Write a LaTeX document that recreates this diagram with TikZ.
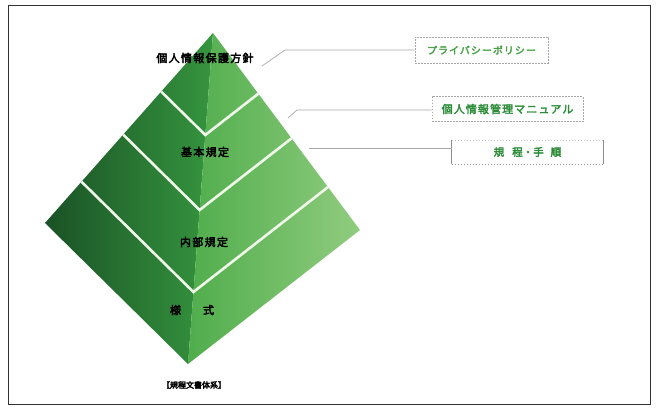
\documentclass[tikz,border=0pt]{standalone}
\usepackage{fontspec}
\newfontfamily\jpfont[FakeBold=3.5]{Noto Sans CJK JP}
\newfontfamily\jpwide[FakeBold=3.5,LetterSpace=12]{Noto Sans CJK JP}
\newfontfamily\jpmid[FakeBold=3,LetterSpace=10]{Noto Sans CJK JP}
\definecolor{pydark}{HTML}{1A5226}
\definecolor{pymid}{HTML}{35953E}
\definecolor{pylight}{HTML}{50AD4C}
\definecolor{pypale}{HTML}{90CC7E}
\definecolor{tagtext}{HTML}{2C8C38}
\definecolor{tagsoft}{HTML}{45A245}
\definecolor{bandline}{HTML}{F0F8EA}
\tikzset{
  frame/.style={draw=black!80, line width=1pt},
  bandsep/.style={draw=bandline, line width=2.6pt, line join=miter},
  layertext/.style={font=\jpwide\fontsize{11}{13}\selectfont, text=black, inner sep=0pt},
  captiontext/.style={font=\jpfont\fontsize{8}{10}\selectfont, text=black, inner sep=0pt},
  tagbox/.style={draw=black!35, dashed, dash pattern=on 1.6pt off 1.4pt, line width=0.6pt,
    inner sep=0pt, text=tagtext},
  leader/.style={draw=black!35, line width=0.7pt}
}
\begin{document}
\begin{tikzpicture}[x=1pt,y=-1pt]
\useasboundingbox (0,0) rectangle (658,410);
\draw[frame] (8,5.5) rectangle (650,404.5);

% pyramid corners
\coordinate (A) at (213,33);
\coordinate (L) at (45,223);
\coordinate (R) at (360,230);
\coordinate (B) at (188,364);

% two faces
\shade[left color=pydark, right color=pymid] (A) -- (L) -- (B) -- cycle;
\shade[left color=pylight, right color=pypale] (A) -- (B) -- (R) -- cycle;

% layer separators
\coordinate (l1) at (161.2,91.6);  \coordinate (v1) at (205.3,135); \coordinate (r1) at (258.3,93.7);
\coordinate (l2) at (123.2,134.6); \coordinate (v2) at (199.6,210); \coordinate (r2) at (291.6,138.3);
\coordinate (l3) at (81.5,181.7);  \coordinate (v3) at (193.4,292); \coordinate (r3) at (328.0,187.1);
\begin{scope}
  \clip (A) -- (L) -- (B) -- (R) -- cycle;
  \draw[bandsep] (l1) -- (v1) -- (r1);
  \draw[bandsep] (l2) -- (v2) -- (r2);
  \draw[bandsep] (l3) -- (v3) -- (r3);
\end{scope}

% layer names
\node[layertext] (policy) at (205,58) {個人情報保護方針};
\node[layertext] (basic) at (205,152) {基本規定};
\node[layertext] (internal) at (204,242) {内部規定};
\node[layertext] (forms) at (192,310) {様\hspace{22pt}式};
\node[captiontext] (caption) at (194,385) {【規程文書体系】};

% document tags
\node[tagbox, minimum width=133, minimum height=26, text=tagsoft,
  font=\jpmid\fontsize{10}{12}\selectfont] (privacy) at (481.5,50) {プライバシーポリシー};
\node[tagbox, minimum width=151, minimum height=25,
  font=\jpmid\fontsize{11}{13}\selectfont] (manual) at (507.5,109) {個人情報管理マニュアル};
\node[inner sep=0pt, minimum width=151, minimum height=24, text=tagtext,
  font=\jpfont\fontsize{10.5}{12}\selectfont] (rules) at (527.5,152) {規\hspace{8pt}程・手\hspace{7pt}順};
\draw[black!45, line width=0.7pt] (rules.north west) -- (rules.south west)
  (rules.north east) -- (rules.south east);
\draw[black!25, dashed, dash pattern=on 1.6pt off 1.4pt, line width=0.5pt]
  (rules.north west) -- (rules.north east);
\draw[black!40, dashed, dash pattern=on 1.6pt off 1.4pt, line width=0.6pt]
  (rules.south west) -- (rules.south east);

% leaders
\coordinate (k1) at (262,66);  \coordinate (j1) at (285,50);
\coordinate (k2) at (288,118); \coordinate (j2) at (297,110);
\coordinate (k3) at (309,148);
\draw[leader] (k1) -- (j1) -- (privacy.west);
\draw[leader] (k2) -- (j2) -- (j2 -| manual.west);
\draw[leader] (k3) -- (k3 -| rules.west);
\end{tikzpicture}
\end{document}
